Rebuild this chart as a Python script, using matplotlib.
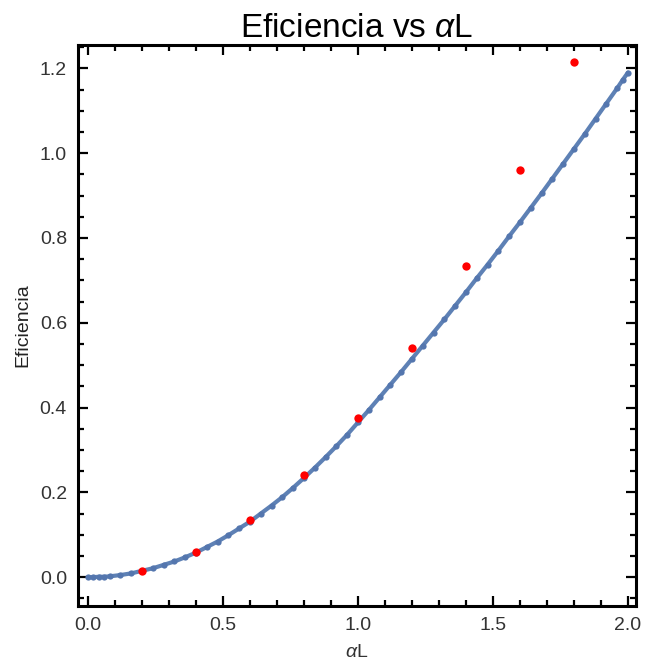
import matplotlib
matplotlib.use("Agg")
import matplotlib.pyplot as plt
from matplotlib.ticker import MultipleLocator

plt.rcParams["font.family"] = ["Liberation Sans", "DejaVu Sans"]
plt.rcParams["mathtext.fontset"] = "custom"
plt.rcParams["mathtext.rm"] = "Liberation Sans"
plt.rcParams["mathtext.it"] = "Liberation Sans:italic"

# modelo (curva azul), muestreada cada 0.04
alpha_L = [0.00, 0.02, 0.04, 0.06, 0.08, 0.12, 0.16, 0.20, 0.24, 0.28, 0.32, 0.36,
           0.40, 0.44, 0.48, 0.52, 0.56, 0.60, 0.64, 0.68, 0.72, 0.76,
           0.80, 0.84, 0.88, 0.92, 0.96, 1.00, 1.04, 1.08, 1.12, 1.16,
           1.20, 1.24, 1.28, 1.32, 1.36, 1.40, 1.44, 1.48, 1.52, 1.56,
           1.60, 1.64, 1.68, 1.72, 1.76, 1.80, 1.84, 1.88, 1.92, 1.96,
           1.98, 2.00]
eficiencia = [0.000, 0.000, 0.001, 0.001, 0.002, 0.005, 0.009, 0.015, 0.021, 0.029, 0.037, 0.047,
              0.058, 0.071, 0.084, 0.099, 0.115, 0.131, 0.150, 0.169, 0.189, 0.211,
              0.234, 0.258, 0.283, 0.309, 0.336, 0.365, 0.394, 0.424, 0.454, 0.484,
              0.515, 0.546, 0.577, 0.608, 0.640, 0.672, 0.705, 0.737, 0.770, 0.804,
              0.837, 0.871, 0.905, 0.940, 0.975, 1.010, 1.045, 1.081, 1.117, 1.153,
              1.172, 1.190]

# datos (puntos rojos)
alpha_L_exp = [0.2, 0.4, 0.6, 0.8, 1.0, 1.2, 1.4, 1.6, 1.8]
eficiencia_exp = [0.015, 0.060, 0.135, 0.240, 0.375, 0.540, 0.735, 0.960, 1.215]

fig = plt.figure(figsize=(6.47, 6.70), dpi=100)
ax = fig.add_axes([0.1206, 0.0955, 0.8624, 0.8373])

ax.plot(alpha_L, eficiencia, color="#5E81B5", lw=3.0, marker="o", ms=4.5,
        mfc="#5476AE", mec="none", solid_capstyle="round", zorder=2)
ax.plot(alpha_L_exp, eficiencia_exp, "o", color="#FF0000", ms=6, mec="none", zorder=3)

ax.set_xlim(-0.037, 2.03)
ax.set_ylim(-0.068, 1.255)
ax.xaxis.set_major_locator(MultipleLocator(0.5))
ax.xaxis.set_minor_locator(MultipleLocator(0.1))
ax.yaxis.set_major_locator(MultipleLocator(0.2))
ax.yaxis.set_minor_locator(MultipleLocator(0.05))
ax.tick_params(which="both", direction="in", top=True, right=True, width=1.6,
               labelsize=14, color="black")
ax.tick_params(which="major", length=7)
ax.tick_params(which="minor", length=4)
ax.tick_params(axis="x", which="major", pad=8)
ax.tick_params(axis="y", which="major", pad=8)
ax.tick_params(labelcolor="#333333")
for s in ax.spines.values():
    s.set_linewidth(2.2)

ax.set_title(r"Eficiencia vs $\alpha$L", fontsize=24, pad=6)
ax.set_xlabel(r"$\alpha$L", fontsize=14, color="#333333", labelpad=7)
ax.set_ylabel("Eficiencia", fontsize=14, color="#222222", labelpad=6)

fig.savefig("out.png", dpi=100)
